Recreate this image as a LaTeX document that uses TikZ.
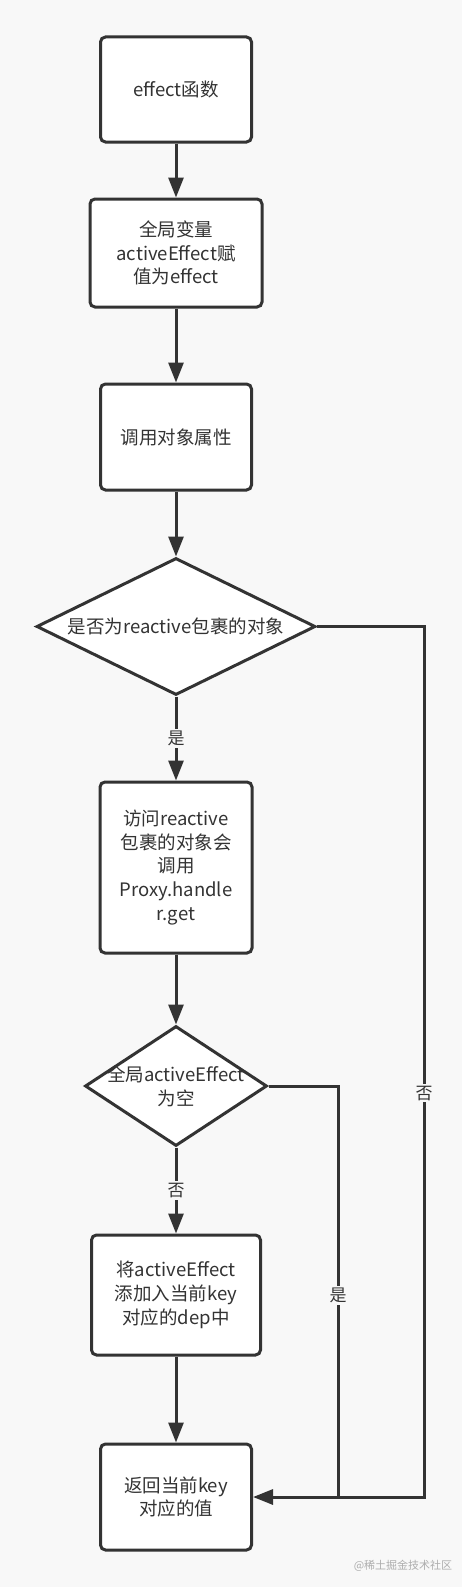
\documentclass[tikz,border=0pt]{standalone}
\usepackage{fontspec}
\setmainfont{Noto Sans CJK SC}
\usetikzlibrary{arrows.meta,shapes.geometric}
\definecolor{bg}{HTML}{F8F8F8}
\definecolor{ink}{HTML}{333333}
\begin{document}
\begin{tikzpicture}[x=1pt,y=-1pt,
  every node/.style={text=ink},
  txt/.style={font=\fontsize{18.5pt}{23.8pt}\selectfont, align=center},
  box/.style={txt, draw=ink, line width=3pt, fill=white, rounded corners=5pt, inner sep=0pt},
  dia/.style={diamond, draw=ink, line width=3pt, fill=white, inner sep=0pt},
  arr/.style={draw=ink, line width=3pt, -{Triangle[length=20pt,width=15pt]}},
  ln/.style={draw=ink, line width=3pt},
  lbl/.style={font=\fontsize{17pt}{20pt}\selectfont, fill=bg, inner sep=2pt}
]
\fill[bg] (0,0) rectangle (462,1587);
\useasboundingbox (0,0) rectangle (462,1587);

\node[box, minimum width=151pt, minimum height=105pt] (b1) at (176,89.5) {effect函数};
\node[box, minimum width=172pt, minimum height=108pt] (b2) at (176,253) {全局变量\\activeEffect赋\\值为effect};
\node[box, minimum width=151pt, minimum height=106pt] (b3) at (176,437) {调用对象属性};
\node[dia, minimum width=279pt, minimum height=137pt] (d1) at (176,626.5) {};
\node[txt] at (d1) {是否为reactive包裹的对象};
\node[box, minimum width=152pt, minimum height=171pt] (b4) at (176,867.5) {访问reactive\\包裹的对象会\\调用\\Proxy.handle\\r.get};
\node[dia, minimum width=182pt, minimum height=120pt] (d2) at (176,1086) {};
\node[txt] at (d2) {全局activeEffect\\为空};
\node[box, minimum width=169pt, minimum height=120pt] (b5) at (176,1295) {将activeEffect\\添加入当前key\\对应的dep中};
\node[box, minimum width=151pt, minimum height=106pt] (b6) at (176,1497) {返回当前key\\对应的值};

\coordinate (r1) at (424,626.5);
\coordinate (r2) at (424,1497);
\coordinate (q1) at (338,1086);
\coordinate (q2) at (338,1497);

\draw[arr] (b1) -- (b2);
\draw[arr] (b2) -- (b3);
\draw[arr] (b3) -- (d1);
\draw[arr] (d1.south) -- node[lbl] {是} (b4.north);
\draw[arr] (b4) -- (d2);
\draw[arr] (d2.south) -- node[lbl] {否} (b5.north);
\draw[arr] (b5) -- (b6);
\draw[ln] (d2.east) -- (q1) -- node[lbl, pos=0.51] {是} (q2);
\draw[arr] (d1.east) -- (r1) -- node[lbl, pos=0.536] {否} (r2) -- (b6.east);

\node[font=\fontsize{11pt}{13pt}\selectfont, text=black!32] (wm) at (403,1566) {@稀土掘金技术社区};
\end{tikzpicture}
\end{document}
